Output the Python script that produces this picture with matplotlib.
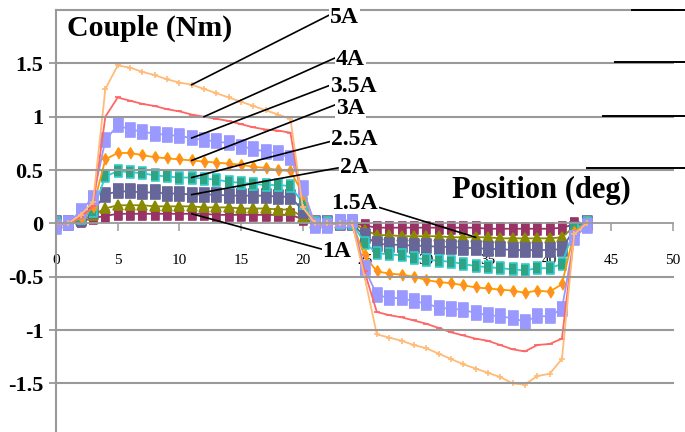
import matplotlib
matplotlib.use('Agg')
import matplotlib.pyplot as plt
from matplotlib.lines import Line2D

# angular position (deg) and torque (Nm) for each current
position = list(range(44))

couple_1a = [0.0, 0.0, 0.02, 0.05, 0.07,
             0.09, 0.09, 0.09, 0.09, 0.09, 0.09, 0.09, 0.09, 0.08, 0.08,
             0.08, 0.08, 0.08, 0.08, 0.08,
             0.04, 0.0, 0.0, 0.0, 0.0, -0.02,
             -0.04, -0.04, -0.04, -0.04, -0.04, -0.04, -0.04, -0.04, -0.04,
             -0.05, -0.05, -0.05, -0.05, -0.05, -0.05, -0.04,
             -0.01, 0.0]
couple_1_5a = [0.0, 0.0, 0.03, 0.08, 0.14,
               0.17, 0.17, 0.17, 0.16, 0.16, 0.16, 0.16, 0.15, 0.15, 0.15,
               0.14, 0.14, 0.14, 0.13, 0.13,
               0.06, 0.0, 0.0, 0.0, 0.0, -0.06,
               -0.11, -0.11, -0.12, -0.12, -0.12, -0.12, -0.13, -0.13, -0.13,
               -0.13, -0.14, -0.14, -0.14, -0.14, -0.14, -0.13,
               -0.03, 0.0]
couple_2a = [0.0, 0.0, 0.04, 0.12, 0.27,
             0.30, 0.30, 0.29, 0.29, 0.28, 0.28, 0.27, 0.27, 0.27, 0.26,
             0.26, 0.26, 0.26, 0.25, 0.25,
             0.12, 0.0, 0.0, 0.0, 0.0, -0.12,
             -0.19, -0.20, -0.20, -0.21, -0.21, -0.22, -0.22, -0.23, -0.23,
             -0.24, -0.24, -0.25, -0.25, -0.25, -0.25, -0.24,
             -0.05, 0.0]
couple_2_5a = [0.0, 0.0, 0.05, 0.12, 0.44,
               0.49, 0.48, 0.47, 0.45, 0.44, 0.43, 0.43, 0.42, 0.41, 0.39,
               0.38, 0.37, 0.36, 0.36, 0.35,
               0.19, 0.0, 0.0, 0.0, 0.0, -0.18,
               -0.28, -0.29, -0.30, -0.32, -0.34, -0.35, -0.36, -0.38, -0.40,
               -0.41, -0.42, -0.43, -0.44, -0.42, -0.42, -0.38,
               -0.05, 0.0]
couple_3a = [0.0, 0.0, 0.05, 0.15, 0.60,
             0.66, 0.66, 0.64, 0.62, 0.61, 0.60, 0.59, 0.58, 0.57, 0.56,
             0.55, 0.53, 0.52, 0.50, 0.49,
             0.28, 0.0, 0.0, 0.0, 0.0, -0.30,
             -0.45, -0.47, -0.48, -0.50, -0.53, -0.55, -0.56, -0.58, -0.60,
             -0.61, -0.62, -0.63, -0.65, -0.63, -0.64, -0.57,
             -0.08, 0.0]
couple_3_5a = [-0.03, 0.0, 0.12, 0.24, 0.78,
               0.92, 0.88, 0.86, 0.84, 0.83, 0.82, 0.80, 0.78, 0.77, 0.75,
               0.72, 0.70, 0.67, 0.66, 0.61,
               0.33, -0.02, -0.02, 0.02, 0.03, -0.42,
               -0.67, -0.70, -0.70, -0.73, -0.75, -0.79, -0.80, -0.81, -0.84,
               -0.86, -0.87, -0.89, -0.92, -0.87, -0.87, -0.80,
               -0.14, -0.02]
couple_4a = [0.0, 0.0, 0.06, 0.16, 1.00,
             1.18, 1.15, 1.12, 1.10, 1.07, 1.05, 1.02, 1.00, 0.98, 0.96,
             0.93, 0.90, 0.88, 0.87, 0.85,
             0.15, 0.0, 0.0, 0.0, 0.0, -0.45,
             -0.83, -0.86, -0.88, -0.91, -0.94, -0.98, -1.02, -1.05, -1.08,
             -1.10, -1.14, -1.18, -1.20, -1.14, -1.13, -1.08,
             -0.10, 0.0]
couple_5a = [0.0, 0.0, 0.08, 0.20, 1.26,
             1.48, 1.46, 1.42, 1.39, 1.35, 1.32, 1.30, 1.26, 1.22, 1.18,
             1.14, 1.10, 1.06, 1.02, 0.98,
             0.15, 0.0, 0.0, 0.0, 0.0, -0.50,
             -1.04, -1.07, -1.10, -1.14, -1.17, -1.22, -1.27, -1.32, -1.36,
             -1.40, -1.44, -1.50, -1.51, -1.43, -1.41, -1.27,
             -0.10, 0.0]

labels = ['1A', '1.5A', '2A', '2.5A', '3A', '3.5A', '4A', '5A']
curves = [couple_1a, couple_1_5a, couple_2a, couple_2_5a,
          couple_3a, couple_3_5a, couple_4a, couple_5a]

x_ticks = list(range(0, 51, 5))
y_ticks = [-1.5, -1, -0.5, 0, 0.5, 1, 1.5]
y_tick_labels = ['-1.5', '-1', '-0.5', '0', '0.5', '1', '1.5']
grid_levels = [-1.5, -1, -0.5, 0.5, 1, 1.5, 2]

# styling: line colour, marker, marker size, marker face
tall_box = [(-0.7, -1), (0.7, -1), (0.7, 1), (-0.7, 1)]
tall_diamond = [(0, -1), (0.6, 0), (0, 1), (-0.6, 0)]
styles = [
    ('#993366', tall_box, 8, '#993366'),
    ('#8a8a00', '^', 7, '#8a8a00'),
    ('#666699', tall_box, 10, '#666699'),
    ('#33CCCC', tall_box, 8, '#2fa386'),
    ('#FF9900', tall_diamond, 8, '#FF8C33'),
    ('#9999FF', tall_box, 10.5, '#9999FF'),
    ('#FF6666', '_', 5, '#FF6666'),
    ('#FFBB77', '+', 5, '#FFBB77'),
]

# label text (left, middle), leader start, index on curve the leader hits
label_text = [(21.6, -0.26), (22.3, 0.19), (23.0, 0.52), (22.3, 0.79),
              (22.7, 1.08), (22.2, 1.28), (22.7, 1.54), (22.2, 1.93)]
leader_start = [(21.5, -0.24), (25.9, 0.16), (22.85, 0.52), (22.3, 0.77),
                (22.6, 1.11), (22.1, 1.29), (22.6, 1.55), (22.1, 1.95)]
leader_hit = [11, 34, 11, 11, 11, 11, 12, 11]

serif = 'Liberation Serif'
W, H = 685, 432
fig = plt.figure(figsize=(W / 100, H / 100), dpi=100)
ax = fig.add_axes([56 / W, 0, 617 / W, 422 / H])
ax.set_xlim(0, 50)
ax.set_ylim(-1.955, 2)

grid_col = '#999999'
for side in ['top', 'right']:
    ax.spines[side].set_visible(False)
ax.spines['left'].set_color(grid_col)
ax.spines['left'].set_linewidth(1.5)
ax.spines['bottom'].set_position(('data', 0))
ax.spines['bottom'].set_color(grid_col)
ax.spines['bottom'].set_linewidth(1.3)

ax.set_xticks(x_ticks)
ax.set_xticklabels([str(t) for t in x_ticks], family=serif, fontsize=11)
ax.tick_params(axis='x', direction='out', length=6, width=1.1,
               color=grid_col, pad=16)
ax.set_yticks(y_ticks)
ax.set_yticklabels(y_tick_labels, family=serif, fontsize=16,
                   fontweight='bold')
ax.tick_params(axis='y', direction='out', length=5, width=1.3,
               color=grid_col, pad=4)

for vals, (col, mk, ms, face) in zip(curves, styles):
    ax.plot(position, vals, color=col, lw=1.3, marker=mk, markersize=ms,
            markerfacecolor=face, markeredgecolor=col, markeredgewidth=1.2,
            zorder=2)

# horizontal grid lines, on the same layer as the axis lines
for level in grid_levels:
    ax.plot([0, 50], [level, level], color=grid_col, lw=1.5, zorder=2.6,
            clip_on=False)

for name, vals, (tx, ty), (sx, sy), i in zip(labels, curves, label_text,
                                              leader_start, leader_hit):
    ax.plot([sx, position[i]], [sy, vals[i]], color='black', lw=1.2,
            zorder=5)
    ax.text(tx, ty, name, family=serif, fontsize=17, fontweight='bold',
            ha='left', va='center', zorder=6,
            bbox=dict(facecolor='white', edgecolor='none', pad=0.5))

fig.text(67 / W, 1 - 28 / H, 'Couple (Nm)', family=serif, fontsize=21.5,
         fontweight='bold', ha='left', va='center')
fig.text(452 / W, 1 - 190 / H, 'Position (deg)', family=serif, fontsize=22,
         fontweight='bold', ha='left', va='center')

# dark stubs at the right end of the upper grid lines
for x0, y0 in [(632, 10), (615, 62), (603, 116), (587, 168)]:
    fig.add_artist(Line2D([x0 / W, 1], [1 - y0 / H, 1 - y0 / H],
                          color='black', lw=1.4))

fig.savefig('out.png', dpi=100)
